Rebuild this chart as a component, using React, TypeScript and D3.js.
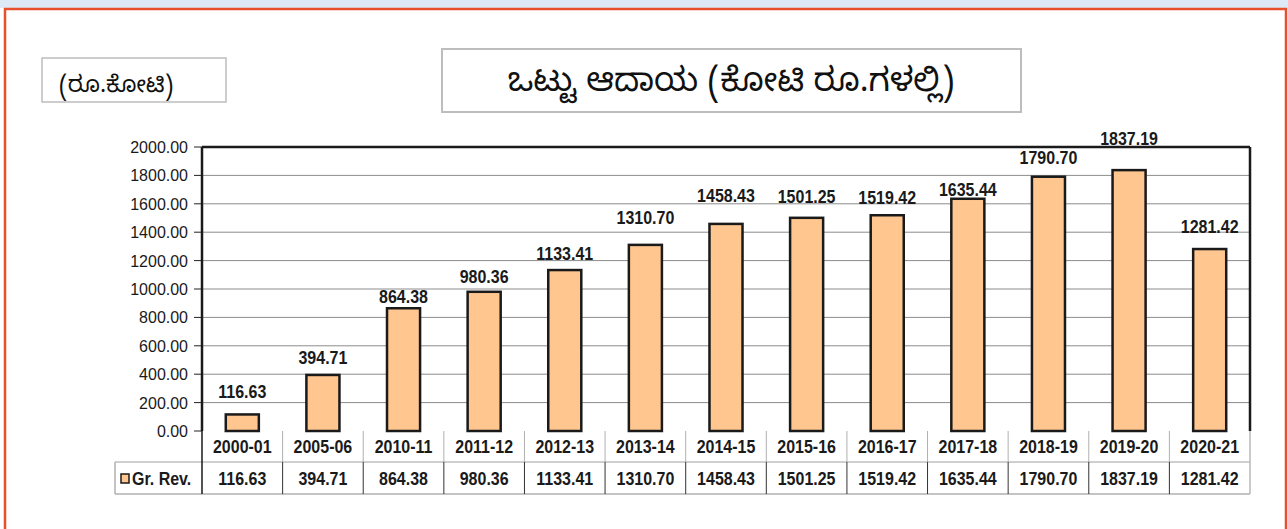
import React from "react";
import * as d3 from "d3";

const categories = ["2000-01","2005-06","2010-11","2011-12","2012-13","2013-14","2014-15","2015-16","2016-17","2017-18","2018-19","2019-20","2020-21"];
const grossRevenue = [116.63,394.71,864.38,980.36,1133.41,1310.70,1458.43,1501.25,1519.42,1635.44,1790.70,1837.19,1281.42];
const yTicks = [0,200,400,600,800,1000,1200,1400,1600,1800,2000];
const seriesName = "Gr. Rev.";
const titleText = "ಒಟ್ಟು ಆದಾಯ (ಕೋಟಿ ರೂ.ಗಳಲ್ಲಿ)";
const unitText = "(ರೂ.ಕೋಟಿ)";
// manual label placement (gap between bar top and label centre), as in the source
const labelGap = [22.6,17.4,12,15,16.7,27,28,21.7,18,9,19,32,23];

const W = 1288, H = 529;
const plotL = 202, plotR = 1250, plotT = 147, plotB = 431;
const row1B = 462, row2B = 494, tableL = 115;
const FONT = "'Liberation Sans', Arial, sans-serif";
const KFONT = "'Noto Sans Kannada', 'Lohit Kannada', 'Noto Sans', sans-serif";
const BAR = "#FFC68F";

function T(props: { x: number; y: number; anchor?: string; bold?: boolean; sy?: number; size?: number; children: React.ReactNode }) {
  const { x, y, anchor = "middle", bold = true, sy = 1.12, size = 16, children } = props;
  return (
    <text transform={`translate(${x},${y}) scale(1,${sy})`} textAnchor={anchor as any} fontFamily={FONT}
      fontWeight={bold ? "bold" : "normal"} fontSize={size} fill="#1a1a1a">{children}</text>
  );
}

export default function App() {
  const x = d3.scaleBand<string>().domain(categories).range([plotL, plotR]).padding(0);
  const y = d3.scaleLinear().domain([0, 2000]).range([plotB, plotT]);
  const bw = x.bandwidth() * 0.41;
  const fmt = d3.format(".2f");

  return (
    <svg width={W} height={H} style={{ position: "absolute", left: 0, top: 0, display: "block" }}>
      <rect x={0} y={0} width={W} height={H} fill="#ffffff" />
      <rect x={0} y={0} width={W} height={8} fill="#dde9f6" />
      <rect x={5} y={9} width={1281} height={H + 20} fill="#ffffff" stroke="#e8502d" strokeWidth={2.5} />

      {/* unit box */}
      <rect x={42} y={58} width={184} height={44} fill="#fff" stroke="#bdbdbd" strokeWidth={1.5} />
      <text x={59} y={92} fontFamily={KFONT} fontSize={23} fill="#111">{unitText}</text>

      {/* title box */}
      <rect x={442} y={49} width={579} height={63} fill="#fff" stroke="#bdbdbd" strokeWidth={2} />
      <text x={731} y={91} textAnchor="middle" fontFamily={KFONT} fontSize={33} fill="#111">{titleText}</text>

      {/* gridlines */}
      {yTicks.filter(t => t > 0 && t < 2000).map(t => (
        <line key={"g" + t} x1={plotL} x2={plotR} y1={y(t)} y2={y(t)} stroke="#8c8c8c" strokeWidth={1} />
      ))}
      {/* y tick labels and ticks */}
      {yTicks.map(t => (
        <g key={"t" + t}>
          <line x1={194} x2={plotL} y1={y(t)} y2={y(t)} stroke="#222" strokeWidth={1} />
          <T x={188} y={y(t) + 6} anchor="end" bold={false} sy={1.05}>{fmt(t)}</T>
        </g>
      ))}

      {/* bars */}
      {grossRevenue.map((v, i) => {
        const cx = (x(categories[i]) as number) + x.bandwidth() / 2;
        return (
          <g key={"b" + i}>
            <rect x={cx - bw / 2} y={y(v)} width={bw} height={plotB - y(v)} fill={BAR} stroke="#1a1a1a" strokeWidth={2.5} />
            <T x={cx} y={y(v) - labelGap[i] + 6.5} sy={1.14}>{fmt(v)}</T>
          </g>
        );
      })}

      {/* plot frame */}
      <line x1={plotL} x2={plotR} y1={plotT} y2={plotT} stroke="#1a1a1a" strokeWidth={2.5} />
      <line x1={plotL} x2={plotL} y1={plotT} y2={plotB} stroke="#1a1a1a" strokeWidth={2.5} />
      <line x1={plotR} x2={plotR} y1={plotT} y2={plotB} stroke="#1a1a1a" strokeWidth={2.5} />

      {/* data table */}
      <line x1={tableL} x2={plotR} y1={row1B} y2={row1B} stroke="#a0a0a0" strokeWidth={1} />
      <line x1={tableL} x2={plotR} y1={row2B} y2={row2B} stroke="#c4c4c4" strokeWidth={2} />
      <line x1={tableL} x2={tableL} y1={row1B} y2={row2B} stroke="#b0b0b0" strokeWidth={1.5} />
      <line x1={plotR} x2={plotR} y1={plotB} y2={row2B} stroke="#b8b8b8" strokeWidth={1.5} />
      {categories.map((c, i) => {
        const x0 = x(c) as number;
        return (
          <g key={"c" + i}>
            {i > 0 && <line x1={x0} x2={x0} y1={plotB} y2={row1B} stroke="#b0b0b0" strokeWidth={1} />}
            <line x1={x0} x2={x0} y1={i === 0 ? plotB : row1B} y2={row2B} stroke={i === 0 ? "#1a1a1a" : "#333"} strokeWidth={i === 0 ? 1.5 : 1} />
            <T x={x0 + x.bandwidth() / 2} y={452.5}>{c}</T>
            <T x={x0 + x.bandwidth() / 2} y={484.5}>{fmt(grossRevenue[i])}</T>
          </g>
        );
      })}
      <rect x={121} y={474} width={8} height={9} fill={BAR} stroke="#1a1a1a" strokeWidth={1.5} />
      <T x={132} y={484.5} anchor="start">{seriesName}</T>
    </svg>
  );
}
